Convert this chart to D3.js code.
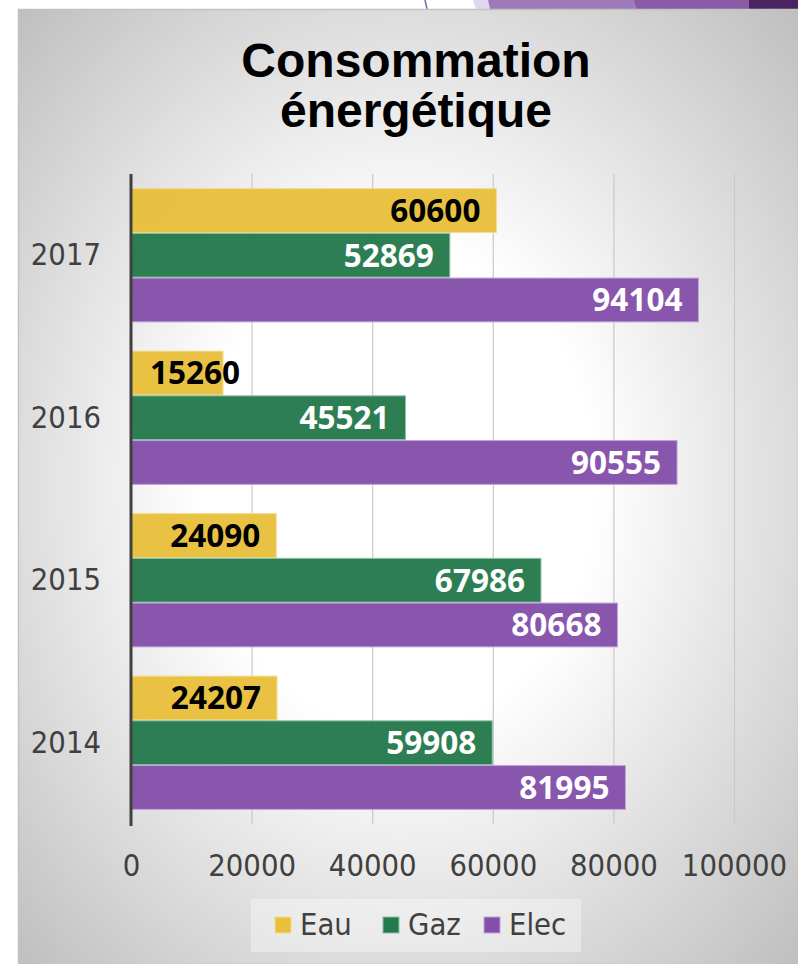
<!DOCTYPE html>
<html>
<head>
  <meta charset="utf-8">
  <style>
    html, body { margin: 0; padding: 0; background: #ffffff; }
    svg { display: block; }
  </style>
</head>
<body>
  <script src="https://d3js.org/d3.v7.min.js"></script>
  <script>
    // Données
    const years = ['2017', '2016', '2015', '2014'];
    const seriesNames = ['Eau', 'Gaz', 'Elec'];
    const eau = [60600, 15260, 24090, 24207];
    const gaz = [52869, 45521, 67986, 59908];
    const elec = [94104, 90555, 80668, 81995];
    const xTicks = [0, 20000, 40000, 60000, 80000, 100000];
    const titleLines = ['Consommation', 'énergétique'];

    const colors = { Eau: '#e8c03c', Gaz: '#247a4c', Elec: '#844fab' };
    const strokes = { Eau: '#f2dc8c', Gaz: '#8fc0a4', Elec: '#c0a3d6' };
    const labelColors = { Eau: '#000000', Gaz: '#ffffff', Elec: '#ffffff' };

    const rows = years.map((y, i) => ({
      year: y,
      values: [
        { key: 'Eau', value: eau[i] },
        { key: 'Gaz', value: gaz[i] },
        { key: 'Elec', value: elec[i] }
      ]
    }));

    const width = 798;
    const height = 964;
    const plot = { left: 131, right: 734, top: 174, bottom: 824 };
    const tickFont = '"DejaVu Sans", sans-serif';

    // texte un peu resserré (police condensée absente)
    function condense(sel) {
      sel.each(function() {
        const w = this.getComputedTextLength();
        d3.select(this)
          .attr('textLength', w * 0.89)
          .attr('lengthAdjust', 'spacingAndGlyphs');
      });
    }

    const svg = d3.select('body')
      .append('svg')
      .attr('width', width)
      .attr('height', height);

    const defs = svg.append('defs');
    const grad = defs.append('radialGradient')
      .attr('id', 'bg')
      .attr('cx', '50%').attr('cy', '50%').attr('r', '72%')
      .attr('fx', '48%').attr('fy', '50%');
    grad.append('stop').attr('offset', '0%').attr('stop-color', '#ffffff');
    grad.append('stop').attr('offset', '35%').attr('stop-color', '#ffffff');
    grad.append('stop').attr('offset', '100%').attr('stop-color', '#bdbdbd');

    // Décor du haut
    svg.append('polygon').attr('points', '473,0 488,0 490,9 476,9').attr('fill', '#e2d6ee');
    svg.append('polygon').attr('points', '488,0 633,0 636,9 490,9').attr('fill', '#9c7bb8');
    svg.append('polygon').attr('points', '633,0 749,0 749,9 636,9').attr('fill', '#8a5ca8');
    svg.append('rect').attr('x', 749).attr('y', 0).attr('width', 49).attr('height', 9).attr('fill', '#4a2461');
    svg.append('line').attr('x1', 425).attr('y1', 0).attr('x2', 427).attr('y2', 9)
      .attr('stroke', '#8a5ca8').attr('stroke-width', 1.5);

    // Fond
    svg.append('rect')
      .attr('x', 18.5).attr('y', 9.5)
      .attr('width', width - 18).attr('height', height - 9)
      .attr('fill', 'url(#bg)')
      .attr('stroke', '#c2c2c2')
      .attr('stroke-width', 1.5);

    // Titre
    svg.append('text')
      .attr('x', 416)
      .attr('text-anchor', 'middle')
      .attr('font-family', '"Liberation Sans", Arial, sans-serif')
      .attr('font-weight', 'bold')
      .attr('font-size', 48)
      .attr('fill', '#000')
      .selectAll('tspan')
      .data(titleLines)
      .join('tspan')
      .attr('x', 416)
      .attr('y', (d, i) => 77 + i * 50)
      .text(d => d);

    // Échelles
    const x = d3.scaleLinear()
      .domain([0, 100000])
      .range([plot.left, plot.right]);

    const y = d3.scaleBand()
      .domain(years)
      .range([plot.top, plot.bottom])
      .paddingInner(0.18)
      .paddingOuter(0.09);

    const ySub = d3.scaleBand()
      .domain(seriesNames)
      .range([0, y.bandwidth()])
      .paddingInner(0.02);

    // Grille
    svg.append('g')
      .selectAll('line')
      .data(xTicks.slice(1))
      .join('line')
      .attr('x1', d => x(d) + 0.5)
      .attr('x2', d => x(d) + 0.5)
      .attr('y1', plot.top)
      .attr('y2', plot.bottom)
      .attr('stroke', '#c9c9c9')
      .attr('stroke-width', 1.2);

    // Axe X
    const xAxis = d3.axisBottom(x)
      .tickValues(xTicks)
      .tickFormat(d3.format('d'))
      .tickSize(0)
      .tickPadding(30);

    const gx = svg.append('g')
      .attr('transform', `translate(0, ${plot.bottom})`)
      .call(xAxis);
    gx.select('.domain').remove();
    gx.selectAll('text')
      .attr('font-family', tickFont)
      .attr('font-size', 31)
      .attr('fill', '#404040')
      .call(condense);

    // Axe Y
    const yAxis = d3.axisLeft(y).tickSize(0).tickPadding(30);
    const gy = svg.append('g')
      .attr('transform', `translate(${plot.left}, 0)`)
      .call(yAxis);
    gy.select('.domain').remove();
    gy.selectAll('text')
      .attr('font-family', tickFont)
      .attr('font-size', 31)
      .attr('fill', '#404040')
      .call(condense);

    // Barres
    const groups = svg.append('g')
      .selectAll('g')
      .data(rows)
      .join('g')
      .attr('transform', d => `translate(0, ${y(d.year)})`);

    groups.selectAll('rect')
      .data(d => d.values)
      .join('rect')
      .attr('x', x(0))
      .attr('y', d => ySub(d.key))
      .attr('width', d => x(d.value) - x(0))
      .attr('height', ySub.bandwidth())
      .attr('fill', d => colors[d.key])
      .attr('fill-opacity', 0.96)
      .attr('stroke', d => strokes[d.key])
      .attr('stroke-width', 1);

    groups.selectAll('text')
      .data(d => d.values)
      .join('text')
      .attr('y', d => ySub(d.key) + ySub.bandwidth() / 2)
      .attr('dy', '0.36em')
      .attr('text-anchor', 'end')
      .attr('font-family', '"Noto Sans", "Open Sans", sans-serif')
      .attr('font-weight', 'bold')
      .attr('font-size', 31.5)
      .attr('fill', d => labelColors[d.key])
      .text(d => d.value)
      .attr('x', function(d) {
        const w = this.getComputedTextLength();
        return Math.max(x(d.value) - 16, x(0) + 19 + w);
      });

    // Axe vertical
    svg.append('line')
      .attr('x1', plot.left).attr('x2', plot.left)
      .attr('y1', plot.top).attr('y2', plot.bottom + 2)
      .attr('stroke', '#404040')
      .attr('stroke-width', 3);

    // Légende
    const legend = svg.append('g');
    legend.append('rect')
      .attr('x', 251).attr('y', 899)
      .attr('width', 330).attr('height', 53)
      .attr('fill', '#ffffff')
      .attr('fill-opacity', 0.35);

    const legendX = [275, 383, 484];
    const items = legend.selectAll('g')
      .data(seriesNames)
      .join('g')
      .attr('transform', (d, i) => `translate(${legendX[i]}, 917)`);
    items.append('rect')
      .attr('width', 16).attr('height', 16)
      .attr('fill', d => colors[d])
      .attr('stroke', d => strokes[d])
      .attr('stroke-width', 1);
    items.append('text')
      .attr('x', 25)
      .attr('y', 18)
      .attr('font-family', tickFont)
      .attr('font-size', 31)
      .attr('fill', '#404040')
      .text(d => d)
      .call(condense);
  </script>
</body>
</html>
